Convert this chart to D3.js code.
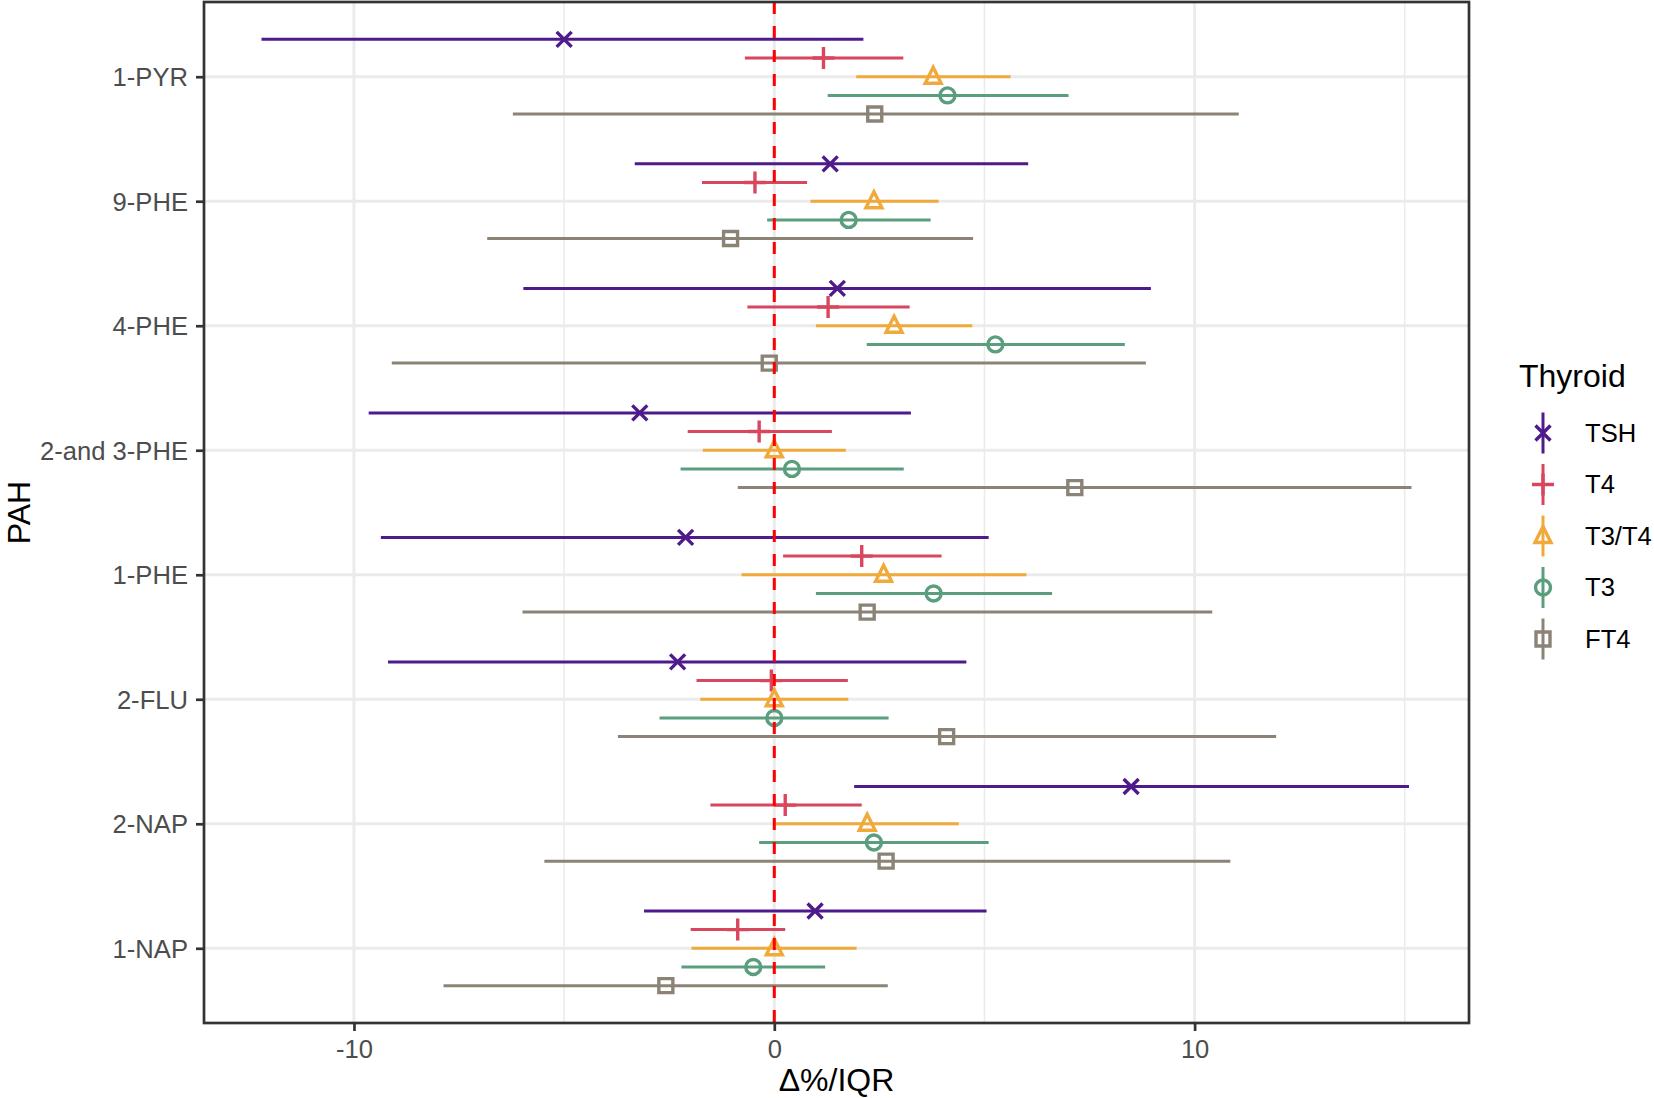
<!DOCTYPE html>
<html>
<head>
<meta charset="utf-8">
<script src="https://cdn.jsdelivr.net/npm/d3@7"></script>
<style>
  html, body { margin: 0; padding: 0; background: #fff; }
  svg { display: block; font-family: "Liberation Sans", Arial, Helvetica, sans-serif; }
</style>
</head>
<body>
<svg id="chart" width="1654" height="1098"></svg>
<script>
// ---- data ----
const categories = ["1-PYR", "9-PHE", "4-PHE", "2-and 3-PHE", "1-PHE", "2-FLU", "2-NAP", "1-NAP"];
const series = ["TSH", "T4", "T3/T4", "T3", "FT4"];
const seriesColors = ["#4F1A8C", "#D9475F", "#F0AA3C", "#5A9E7E", "#8C8377"];
const xTicks = [-10, 0, 10];
const xTickLabels = ["-10", "0", "10"];
const xMinorTicks = [-15, -5, 5, 15];

const tshEst  = [-5.00, 1.33, 1.50, -3.20, -2.11, -2.30, 8.49, 0.97];
const tshLo   = [-12.20, -3.32, -5.97, -9.65, -9.36, -9.19, 1.90, -3.10];
const tshHi   = [2.12, 6.04, 8.96, 3.25, 5.10, 4.57, 15.10, 5.05];
const t4Est   = [1.17, -0.46, 1.28, -0.36, 2.08, -0.07, 0.26, -0.87];
const t4Lo    = [-0.70, -1.72, -0.64, -2.06, 0.21, -1.85, -1.52, -1.99];
const t4Hi    = [3.07, 0.78, 3.22, 1.37, 3.98, 1.75, 2.08, 0.26];
const t3t4Est = [3.78, 2.37, 2.85, 0.00, 2.60, 0.00, 2.21, 0.00];
const t3t4Lo  = [1.95, 0.86, 0.99, -1.70, -0.78, -1.76, 0.03, -1.97];
const t3t4Hi  = [5.62, 3.91, 4.71, 1.70, 6.00, 1.76, 4.39, 1.96];
const t3Est   = [4.12, 1.77, 5.26, 0.42, 3.79, 0.00, 2.37, -0.50];
const t3Lo    = [1.27, -0.17, 2.20, -2.23, 0.99, -2.73, -0.36, -2.21];
const t3Hi    = [7.00, 3.72, 8.34, 3.08, 6.61, 2.72, 5.10, 1.21];
const ft4Est  = [2.39, -1.04, -0.12, 7.15, 2.21, 4.10, 2.66, -2.58];
const ft4Lo   = [-6.22, -6.83, -9.10, -0.87, -5.99, -3.72, -5.47, -7.87];
const ft4Hi   = [11.05, 4.73, 8.84, 15.16, 10.42, 11.94, 10.85, 2.70];

const estArr = [tshEst, t4Est, t3t4Est, t3Est, ft4Est];
const loArr  = [tshLo, t4Lo, t3t4Lo, t3Lo, ft4Lo];
const hiArr  = [tshHi, t4Hi, t3t4Hi, t3Hi, ft4Hi];

const rows = [];
series.forEach((s, si) => {
  categories.forEach((c, ci) => {
    rows.push({ series: s, si, cat: c, est: estArr[si][ci], lo: loArr[si][ci], hi: hiArr[si][ci] });
  });
});

// ---- layout ----
const svg = d3.select("#chart");
const panel = { left: 204, right: 1469, top: 2, bottom: 1023 };

const allLo = d3.min(rows, d => d.lo), allHi = d3.max(rows, d => d.hi);
const pad = (allHi - allLo) * 0.05;
const x = d3.scaleLinear().domain([allLo - pad, allHi + pad]).range([panel.left, panel.right]);
const y = d3.scalePoint().domain(categories).range([panel.top, panel.bottom]).padding(0.6);
const step = y.step();
const dodge = d3.scaleBand().domain(series).range([-0.375 * step, 0.375 * step]);
const color = d3.scaleOrdinal().domain(series).range(seriesColors);
const yPos = d => y(d.cat) + dodge(d.series) + dodge.bandwidth() / 2;

const gridCol = "#EBEBEB";
const g = svg.append("g");

// minor grid
g.selectAll(".minor").data(xMinorTicks.filter(t => x(t) > panel.left && x(t) < panel.right)).join("line")
  .attr("x1", d => x(d)).attr("x2", d => x(d)).attr("y1", panel.top).attr("y2", panel.bottom)
  .attr("stroke", gridCol).attr("stroke-width", 1.5);
// major grid
g.selectAll(".majx").data(xTicks).join("line")
  .attr("x1", d => x(d)).attr("x2", d => x(d)).attr("y1", panel.top).attr("y2", panel.bottom)
  .attr("stroke", gridCol).attr("stroke-width", 3);
g.selectAll(".majy").data(categories).join("line")
  .attr("x1", panel.left).attr("x2", panel.right).attr("y1", d => y(d)).attr("y2", d => y(d))
  .attr("stroke", gridCol).attr("stroke-width", 3);

// symbols
function symbolPath(s, cx, cy) {
  switch (s) {
    case "TSH": { const h = 7.5; return `M${cx-h},${cy-h}L${cx+h},${cy+h}M${cx-h},${cy+h}L${cx+h},${cy-h}`; }
    case "T4": { const h = 11; return `M${cx-h},${cy}L${cx+h},${cy}M${cx},${cy-h}L${cx},${cy+h}`; }
    case "T3/T4": { const w = 8, t = 9.5, b = 6.5; return `M${cx},${cy-t}L${cx+w},${cy+b}L${cx-w},${cy+b}Z`; }
    case "T3": { const r = 7.5; return `M${cx+r},${cy}A${r},${r} 0 1,1 ${cx-r},${cy}A${r},${r} 0 1,1 ${cx+r},${cy}Z`; }
    case "FT4": { const h = 7; return `M${cx-h},${cy-h}H${cx+h}V${cy+h}H${cx-h}Z`; }
  }
}
const markStroke = 3.4;

// error bars and points
const marks = g.append("g");
series.forEach(s => {
  const d = rows.filter(r => r.series === s);
  marks.append("g").selectAll("line").data(d).join("line")
    .attr("x1", r => x(r.lo)).attr("x2", r => x(r.hi))
    .attr("y1", yPos).attr("y2", yPos)
    .attr("stroke", color(s)).attr("stroke-width", 3);
  marks.append("g").selectAll("path").data(d).join("path")
    .attr("d", r => symbolPath(s, x(r.est), yPos(r)))
    .attr("fill", "none").attr("stroke", color(s)).attr("stroke-width", markStroke);
});

// reference line
g.append("line")
  .attr("x1", x(0)).attr("x2", x(0)).attr("y1", panel.top).attr("y2", panel.bottom)
  .attr("stroke", "#FF0000").attr("stroke-width", 3).attr("stroke-dasharray", "12,12");

// panel border
g.append("rect")
  .attr("x", panel.left).attr("y", panel.top)
  .attr("width", panel.right - panel.left).attr("height", panel.bottom - panel.top)
  .attr("fill", "none").attr("stroke", "#333333").attr("stroke-width", 2.7);

// axes
const xAxis = d3.axisBottom(x).tickValues(xTicks).tickSize(8).tickPadding(4)
  .tickFormat((d, i) => xTickLabels[i]);
const xg = svg.append("g").attr("transform", `translate(0,${panel.bottom})`).call(xAxis);
const yAxis = d3.axisLeft(y).tickSize(8).tickPadding(8);
const yg = svg.append("g").attr("transform", `translate(${panel.left},0)`).call(yAxis);
[xg, yg].forEach(a => {
  a.select(".domain").remove();
  a.selectAll(".tick line").attr("stroke", "#333333").attr("stroke-width", 2.7);
  a.selectAll(".tick text").attr("fill", "#4D4D4D").attr("font-size", 25.6)
    .attr("font-family", "'Liberation Sans', Arial, Helvetica, sans-serif");
});
xg.selectAll(".tick text").attr("dy", null).attr("y", 35).attr("dominant-baseline", "auto");
yg.selectAll(".tick text").attr("dy", "0.35em");

// axis titles
svg.append("text").attr("x", (panel.left + panel.right) / 2).attr("y", 1091)
  .attr("text-anchor", "middle").attr("font-size", 32).attr("fill", "#000").text("Δ%/IQR");
svg.append("text")
  .attr("transform", `translate(30,${(panel.top + panel.bottom) / 2}) rotate(-90)`)
  .attr("text-anchor", "middle").attr("font-size", 32).attr("fill", "#000").text("PAH");

// legend
const leg = svg.append("g");
leg.append("text").attr("x", 1519).attr("y", 387).attr("font-size", 32).attr("fill", "#000").text("Thyroid");
const keyY0 = 433, keyStep = 51.5, keyX = 1543;
series.forEach((s, i) => {
  const cy = keyY0 + i * keyStep;
  leg.append("line").attr("x1", keyX).attr("x2", keyX).attr("y1", cy - 20.5).attr("y2", cy + 20.5)
    .attr("stroke", color(s)).attr("stroke-width", 3);
  leg.append("path").attr("d", symbolPath(s, keyX, cy))
    .attr("fill", "none").attr("stroke", color(s)).attr("stroke-width", markStroke);
  leg.append("text").attr("x", 1585).attr("y", cy).attr("dy", "0.35em")
    .attr("font-size", 25.6).attr("fill", "#000").text(s);
});
</script>
</body>
</html>
